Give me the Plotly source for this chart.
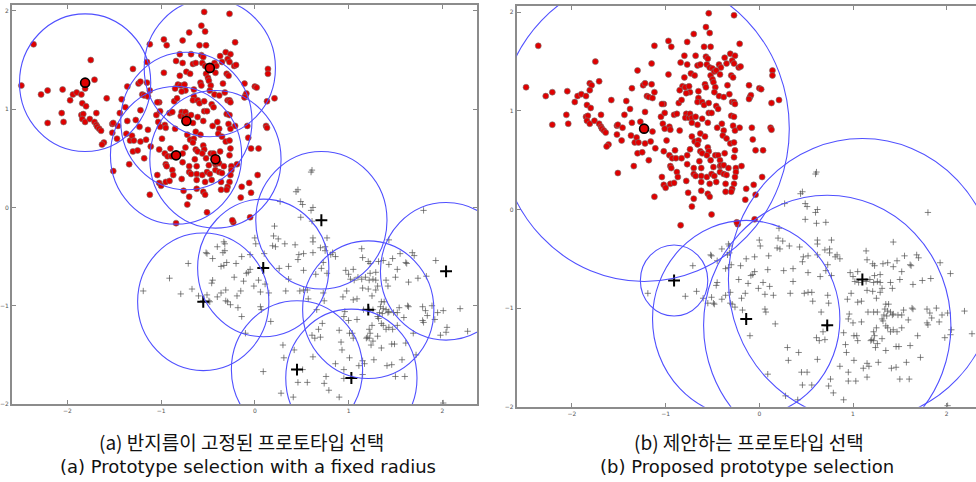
import plotly.graph_objects as go

# ---------------- data ----------------
red_x = [-2.36,-2.49,-2.28,-2.21,-2.21,-2.05,-2.06,-2.04,-1.97,-1.94,-1.90,-1.85,-1.81,-1.79,-1.81,-1.75,-1.71,-1.84,-1.80,-1.85,
         -1.83,-1.84,-1.81,-1.76,-1.71,-1.69,-1.69,-1.68,-1.66,-1.64,-1.61,-1.63,-1.58,-1.51,-1.52,-1.51,-1.52,-1.46,-1.47,-1.44,
         -1.42,-1.38,-1.37,-1.36,-1.36,-1.33,-1.31,-1.29,-1.30,-1.25,-1.22,-1.34,-1.27,-1.22,-1.23,-1.30,-1.24,-1.22,-1.15,-1.15,
         -1.20,-1.18,-1.14,-1.12,-1.12,-1.14,-1.16,-1.18,-1.12,-1.11,
         -0.54,-0.27,-0.57,-0.53,-0.70,-0.97,-0.77,-0.94,-0.59,-0.52,-0.21,-0.31,-0.26,-0.80,-0.68,-0.57,-0.55,-0.37,-0.84,-0.77,
         -0.66,-0.63,-0.56,-0.53,-0.50,-0.43,-0.41,-0.35,-0.29,-0.27,-0.22,-0.20,0.14,0.14,-0.97,-0.73,-0.69,-0.52,-0.48,-0.46,
         -0.42,-0.50,-0.30,-0.28,-0.80,-0.82,-0.79,-0.75,-0.74,-0.78,-0.85,-0.65,-0.58,-0.57,-0.49,-0.47,-0.34,-0.11,0.00,0.02,
         -0.48,-0.43,-0.38,-0.32,-1.02,-1.04,-0.86,-0.83,-0.65,-0.66,-0.61,-0.59,-0.54,-0.46,-0.44,-0.29,-0.27,-0.26,-0.10,-0.09,
         -0.11,0.13,0.21,-1.05,-1.01,-0.91,-0.88,-0.78,-0.79,-0.75,-0.74,-0.72,-0.68,-0.61,-0.54,-0.51,-0.30,-0.27,-1.03,-0.96,
         -1.01,-0.95,-0.85,-0.72,-0.66,-0.55,-0.40,-0.45,-0.28,-0.21,-0.08,0.12,0.13,-0.63,-0.72,-0.58,-0.38,-0.39,-0.35,-0.26,
         -0.99,-0.69,-0.65,-0.66,-0.31,-0.27,-0.07,-1.02,-0.96,-0.90,-0.74,-0.63,-0.61,-0.55,-0.54,-0.56,-0.47,-0.44,-0.37,-0.26,
         -0.04,0.04,-0.93,-0.89,-0.83,-0.77,-0.64,-0.52,-0.42,-0.27,-0.95,-0.94,-0.88,-0.77,-0.70,-0.62,-0.49,-0.42,-0.41,-0.38,
         -0.33,-0.25,-0.25,-0.19,-1.04,-0.87,-0.70,-0.68,-0.62,-0.56,-0.51,-0.48,-0.42,-0.38,-0.35,-0.26,0.03,-0.78,-0.62,-0.53,
         -0.46,-0.36,-0.27,-1.02,-1.00,-0.95,-0.91,-0.29,-0.14,-0.06,-0.76,-0.62,-0.55,-0.53,-0.36,-0.30,-0.04,-0.70,-0.15,-0.72,
         -0.51,-0.84,-0.23,-0.05,-0.24]
red_y = [1.66,1.24,1.15,1.19,0.86,1.20,0.96,0.87,1.09,1.15,1.17,1.15,1.28,1.26,1.21,1.50,1.30,1.06,1.03,0.94,
         0.95,0.90,0.87,0.90,0.87,0.84,0.96,0.82,0.80,0.78,0.66,0.64,1.11,0.37,0.85,0.86,0.76,0.83,0.70,0.96,
         1.10,1.02,0.75,1.23,0.88,0.68,0.73,0.68,0.57,0.58,0.67,0.44,0.89,0.99,0.82,1.41,1.26,1.28,1.27,1.48,
         1.15,1.14,1.13,1.19,1.66,0.79,0.69,0.50,0.13,0.62,
         1.99,1.97,1.85,1.79,1.78,1.71,1.70,1.65,1.65,1.65,1.68,1.58,1.56,1.56,1.56,1.55,1.53,1.54,1.49,1.47,
         1.46,1.47,1.47,1.44,1.43,1.47,1.44,1.48,1.51,1.48,1.44,1.45,1.41,1.36,1.37,1.38,1.36,1.36,1.40,1.41,
         1.37,1.32,1.36,1.34,1.34,1.25,1.24,1.25,1.19,1.18,1.21,1.20,1.27,1.24,1.29,1.24,1.26,1.26,1.23,1.22,
         1.19,1.15,1.14,1.17,1.07,1.07,1.08,1.11,1.13,1.09,1.09,1.06,1.08,1.05,1.02,1.09,1.09,1.07,1.14,1.16,
         1.12,1.08,1.11,0.94,0.98,0.96,0.97,0.97,0.93,0.93,0.97,0.93,0.94,0.92,0.98,0.98,0.95,0.94,0.87,0.84,
         0.82,0.81,0.80,0.88,0.86,0.88,0.87,0.83,0.85,0.83,0.83,0.83,0.81,0.77,0.74,0.74,0.80,0.75,0.72,0.80,
         0.70,0.69,0.70,0.66,0.67,0.68,0.71,0.59,0.55,0.60,0.61,0.59,0.57,0.63,0.59,0.55,0.55,0.55,0.57,0.60,
         0.60,0.60,0.52,0.52,0.52,0.55,0.49,0.50,0.50,0.53,0.44,0.42,0.38,0.46,0.42,0.42,0.43,0.44,0.45,0.45,
         0.42,0.42,0.38,0.44,0.33,0.33,0.36,0.34,0.34,0.33,0.36,0.34,0.38,0.36,0.35,0.33,0.33,0.29,0.28,0.26,
         0.28,0.26,0.26,0.25,0.22,0.26,0.27,0.21,0.21,0.25,0.17,0.19,0.16,0.13,0.18,0.18,0.15,0.11,0.10,0.03,
         -0.05,-0.16,-0.15,-0.10,-0.13]

black_x = [-0.71,-0.52,-0.51,-0.40,-0.33,-0.32,-0.34,-0.32,-0.36,-0.33,-0.45,-0.46,-1.19,-0.79,-0.67,-0.60,-0.55,-0.51,-0.49,-0.48,
           -0.40,-0.36,-0.31,-0.31,-0.29,-0.26,-0.22,-0.91,-0.45,-0.30,-0.20,
           0.44,0.46,0.27,0.49,0.51,0.62,0.60,0.49,0.61,0.71,0.21,0.20,0.25,0.32,0.43,0.19,0.22,0.00,0.01,0.62,
           0.62,0.77,0.70,0.75,0.75,0.81,0.83,0.86,-0.14,-0.05,0.10,0.47,0.52,0.46,0.62,-0.07,-0.09,-0.05,0.09,
           0.26,0.36,0.36,0.52,0.65,0.73,0.77,0.71,-0.12,0.04,0.11,-0.01,0.06,0.15,0.33,0.48,0.52,0.56,0.73,
           0.74,0.66,-0.15,-0.19,-0.18,0.06,0.07,0.17,0.57,0.72,0.61,0.64,0.68,0.70,-0.10,0.30,0.42,0.62,0.31,
           0.45,0.51,0.09,0.46,0.56,0.76,0.74,0.79,0.90,0.28,0.41,-0.14,0.97,1.00,1.05,1.02,1.06,0.98,0.94,1.05,
           0.96,0.95,1.00,0.90,1.01,1.04,0.92,0.93,1.05,1.01,0.86,0.95,0.95,1.03,0.60,0.61,
           1.80,1.43,1.55,1.68,1.70,1.61,1.62,1.93,2.04,1.14,1.15,1.21,1.23,1.32,1.37,1.43,1.47,1.52,1.64,1.74,
           1.83,1.50,1.40,1.42,1.29,1.31,1.26,1.22,1.18,1.23,1.29,1.14,1.15,1.21,1.29,1.25,1.09,1.10,1.16,1.22,
           1.26,1.35,1.38,1.34,1.37,1.40,1.43,1.33,1.31,1.32,1.35,1.36,1.42,1.48,1.52,1.54,1.59,1.63,1.64,1.79,
           1.82,1.84,1.89,1.95,1.92,2.01,2.19,1.79,1.80,1.69,1.52,1.47,1.43,1.40,1.37,1.25,1.22,1.23,1.20,1.22,
           1.19,1.24,1.26,1.31,1.35,1.46,1.49,1.61,1.72,1.57,1.46,1.41,1.27,1.17,1.15,1.11,1.15,1.50,1.60,1.98,
           2.04,2.05,1.09,2.27,2.01]
black_y = [-0.57,-0.46,-0.47,-0.40,-0.35,-0.37,-0.46,-0.44,-0.60,-0.59,-0.74,-0.77,-0.85,-0.88,-0.83,-0.90,-0.95,-0.89,-0.95,-0.96,
           -0.91,-0.87,-0.84,-0.95,-0.96,-0.99,-0.71,-0.72,-0.52,-0.56,-0.57,
           0.16,0.18,0.06,0.06,0.03,0.00,-0.03,-0.10,-0.14,-0.13,-0.19,-0.29,-0.32,-0.37,-0.38,-0.39,-0.40,-0.31,-0.37,-0.31,
           -0.35,-0.31,-0.41,-0.40,-0.44,-0.48,-0.46,-0.50,-0.50,-0.48,-0.47,-0.48,-0.47,-0.53,-0.46,-0.66,-0.67,-0.63,-0.61,
           -0.62,-0.60,-0.73,-0.64,-0.68,-0.56,-0.67,-0.62,-0.75,-0.74,-0.78,-0.80,-0.86,-0.87,-0.85,-0.85,-0.84,-0.84,-0.87,
           -0.95,-1.04,-0.85,-0.90,-1.02,-1.01,-1.04,-1.16,-0.93,-1.18,-1.30,-1.33,-1.24,-1.32,-1.28,-1.40,-1.45,-1.52,-1.53,
           -1.65,-1.65,-1.67,-1.78,-1.78,-1.72,-1.79,-1.86,-1.93,-1.89,-1.93,-1.11,-0.64,-0.68,-0.63,-0.73,-0.74,-0.85,-0.91,-0.94,
           -1.06,-1.11,-1.15,-1.25,-1.28,-1.28,-1.37,-1.45,-1.33,-1.53,-1.59,-1.65,-1.74,-1.74,0.36,0.38,
           -0.03,-0.33,-0.47,-0.46,-0.49,-0.56,-0.57,-0.54,-0.65,-0.42,-0.51,-0.55,-0.57,-0.55,-0.54,-0.58,-0.52,-0.63,-0.76,-0.72,
           -0.70,-0.71,-0.74,-0.80,-0.74,-0.80,-0.73,-0.74,-0.71,-0.67,-0.66,-0.73,-0.82,-0.83,-0.84,-0.90,-0.93,-0.71,-1.04,-1.04,
           -1.04,-0.96,-0.96,-1.01,-1.03,-1.04,-1.06,-1.07,-1.11,-1.13,-1.18,-1.08,-1.07,-1.07,-1.07,-1.02,-1.12,-1.00,-1.01,-1.01,
           -1.05,-1.10,-1.00,-1.07,-1.14,-1.05,-1.03,-1.15,-1.17,-1.28,-1.20,-1.24,-1.22,-1.24,-1.20,-1.20,-1.24,-1.28,-1.32,-1.33,
           -1.33,-1.40,-1.36,-1.31,-1.43,-1.39,-1.39,-1.38,-1.50,-1.55,-1.60,-1.61,-1.55,-1.59,-1.56,-1.61,-1.70,-1.72,-1.72,-1.30,
           -1.27,-1.22,-1.14,-1.26,-1.99]

# prototypes and radii, panel (a): fixed radius
a_red_proto_x = [-1.81, -0.48, -0.73, -0.84, -0.42]
a_red_proto_y = [1.27, 1.42, 0.88, 0.53, 0.49]
a_blk_proto_x = [0.71, 0.09, -0.55, 2.04, 1.21, 0.45, 1.03]
a_blk_proto_y = [-0.13, -0.615, -0.96, -0.65, -1.04, -1.65, -1.735]
a_radius = 0.70

# panel (b): proposed, variable radius
b_red_proto_x = [-1.23]
b_red_proto_y = [0.82]
b_red_radius = [1.55]
b_blk_proto_x = [-0.91, -0.14, 0.725, 1.10]
b_blk_proto_y = [-0.72, -1.11, -1.175, -0.71]
b_blk_radius = [0.36, 1.0, 1.32, 1.43]

tick_vals = [-2, -1, 0, 1, 2]
caption_a_ko = "(a) 반지름이 고정된 프로토타입 선택"
caption_a_en = "(a) Prototype selection with a fixed radius"
caption_b_ko = "(b) 제안하는 프로토타입 선택"
caption_b_en = "(b) Proposed prototype selection"

# ---------------- figure ----------------
RED = "#e00000"
CIRCLE = "rgb(80,80,255)"
fig = go.Figure()

for xa, ya, rpx, rpy, bpx, bpy in [("x", "y", a_red_proto_x, a_red_proto_y, a_blk_proto_x, a_blk_proto_y),
                                   ("x2", "y2", b_red_proto_x, b_red_proto_y, b_blk_proto_x, b_blk_proto_y)]:
    fig.add_trace(go.Scatter(x=black_x, y=black_y, xaxis=xa, yaxis=ya, mode="markers",
                             marker=dict(symbol="cross-thin", size=4.5,
                                         line=dict(width=1, color="rgba(80,80,80,0.7)")),
                             showlegend=False, hoverinfo="skip"))
    fig.add_trace(go.Scatter(x=red_x, y=red_y, xaxis=xa, yaxis=ya, mode="markers",
                             marker=dict(symbol="circle", size=6, color=RED,
                                         line=dict(width=0.6, color="#777")),
                             showlegend=False, hoverinfo="skip"))
    fig.add_trace(go.Scatter(x=rpx, y=rpy, xaxis=xa, yaxis=ya, mode="markers",
                             marker=dict(symbol="circle", size=9, color=RED,
                                         line=dict(width=1.6, color="black")),
                             showlegend=False, hoverinfo="skip"))
    fig.add_trace(go.Scatter(x=bpx, y=bpy, xaxis=xa, yaxis=ya, mode="markers",
                             marker=dict(symbol="cross-thin", size=8.5,
                                         line=dict(width=2, color="black")),
                             showlegend=False, hoverinfo="skip"))

shapes = []
def circ(xref, yref, cx, cy, r):
    shapes.append(dict(type="circle", xref=xref, yref=yref, x0=cx - r, x1=cx + r,
                       y0=cy - r, y1=cy + r, line=dict(color=CIRCLE, width=1.1), layer="above"))

for cx, cy in zip(a_red_proto_x + a_blk_proto_x, a_red_proto_y + a_blk_proto_y):
    circ("x", "y", cx, cy, a_radius)
for cx, cy, r in zip(b_red_proto_x + b_blk_proto_x, b_red_proto_y + b_blk_proto_y,
                     b_red_radius + b_blk_radius):
    circ("x2", "y2", cx, cy, r)

axis_common = dict(tickvals=tick_vals, ticks="inside", ticklen=4, tickwidth=1, tickcolor="#888",
                   showgrid=False, zeroline=False, showline=True, linewidth=2, linecolor="#8c8c8c",
                   automargin=False,
                   tickfont=dict(size=6, color="#555", family="DejaVu Sans"))

fig.update_layout(
    width=976, height=482, margin=dict(l=0, r=0, t=0, b=0, autoexpand=False),
    paper_bgcolor="white", plot_bgcolor="white",
    xaxis=dict(domain=[12 / 976, 477 / 976], range=[-2.59, 2.37], mirror="ticks", anchor="y", **axis_common),
    yaxis=dict(domain=[1 - 404 / 482, 1 - 5.3 / 482], range=[-2.0, 2.057], mirror="ticks", anchor="x", **axis_common),
    xaxis2=dict(domain=[516.7 / 976, 1.0], range=[-2.59, 2.313], mirror="ticks", anchor="y2", **axis_common),
    yaxis2=dict(domain=[1 - 406.7 / 482, 1 - 5.7 / 482], range=[-2.0, 2.067], mirror=False, anchor="x2", **axis_common),
    shapes=shapes,
)

ko_font = dict(family="Noto Sans CJK KR", size=19, color="#111")
en_font = dict(family="DejaVu Sans", size=18, color="#111")
for txt, xc, yc, fnt in [(caption_a_ko, 241.5, 441, ko_font), (caption_a_en, 248, 466, en_font),
                         (caption_b_ko, 748.5, 441, ko_font), (caption_b_en, 747, 466, en_font)]:
    fig.add_annotation(text=txt, x=xc / 976, y=1 - yc / 482, xref="paper", yref="paper",
                       xanchor="center", yanchor="middle", showarrow=False, font=fnt)

fig.write_html("out.html", config={"displayModeBar": False},
               post_script="document.body.style.margin='0';document.body.style.overflow='hidden';")
